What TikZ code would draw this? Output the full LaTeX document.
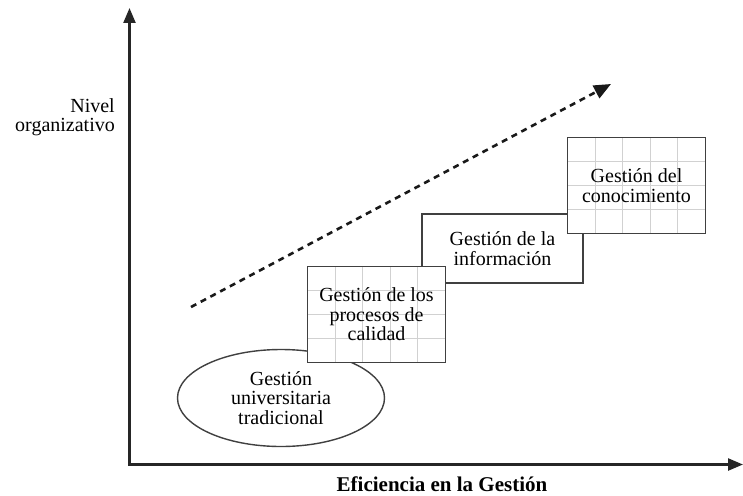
\documentclass[tikz,border=0pt]{standalone}
\usepackage{fontspec}
\setmainfont{Liberation Serif}
\usetikzlibrary{shapes.geometric,arrows.meta,calc}

\begin{document}
\begin{tikzpicture}[
  x=1pt, y=-1pt,
  every node/.style={font=\fontsize{20}{19.5}\selectfont, align=center},
  axis/.style={line width=2.4pt, draw=black!85, line join=miter,
    {Triangle[length=15pt,width=12pt]}-{Triangle[length=15pt,width=12pt]}},
  trend/.style={line width=2.6pt, draw=black!90, dash pattern=on 6pt off 5pt,
    -{Triangle[length=17pt,width=14pt]}},
  stage/.style={draw=black!75, line width=1.4pt, fill=white, inner sep=0pt},
  gridstage/.style={stage, minimum width=138pt, minimum height=96pt,
    path picture={
      \foreach \i in {1,...,4}
        \draw[black!18, line width=0.9pt]
          ($(path picture bounding box.north west)!\i/5!(path picture bounding box.north east)$) --
          ($(path picture bounding box.south west)!\i/5!(path picture bounding box.south east)$);
      \foreach \j in {1,2,3}
        \draw[black!18, line width=0.9pt]
          ($(path picture bounding box.north west)!\j/4!(path picture bounding box.south west)$) --
          ($(path picture bounding box.north east)!\j/4!(path picture bounding box.south east)$);
    }},
]
\useasboundingbox (0,0) rectangle (743,495);

% axes
\coordinate (origin) at (129.5,464.5);
\coordinate (ytip) at (129.5,8);
\coordinate (xtip) at (743,464.5);
\draw[axis] (ytip) -- (origin) -- (xtip);
\node[anchor=east, align=right, inner sep=0pt] (nivel) at (115,117) {Nivel\\organizativo};
\node[anchor=base, inner sep=0pt, font=\fontsize{21}{21}\selectfont\bfseries] (eficiencia) at (442,491)
  {Eficiencia en la Gestión};

% trend
\coordinate (trendstart) at (191,307);
\coordinate (trendend) at (611,84);
\draw[trend] (trendstart) -- (trendend);

% stages
\node[stage, ellipse, minimum width=207pt, minimum height=97pt] (tradicional) at (281,398)
  {Gestión\\universitaria\\tradicional};
\node[stage, minimum width=161pt, minimum height=69pt] (informacion) at (502.5,248.5)
  {Gestión de la\\información};
\node[gridstage] (calidad) at (376.5,314.5) {Gestión de los\\procesos de\\calidad};
\node[gridstage] (conocimiento) at (636.5,185.5) {Gestión del\\conocimiento};
\end{tikzpicture}
\end{document}
